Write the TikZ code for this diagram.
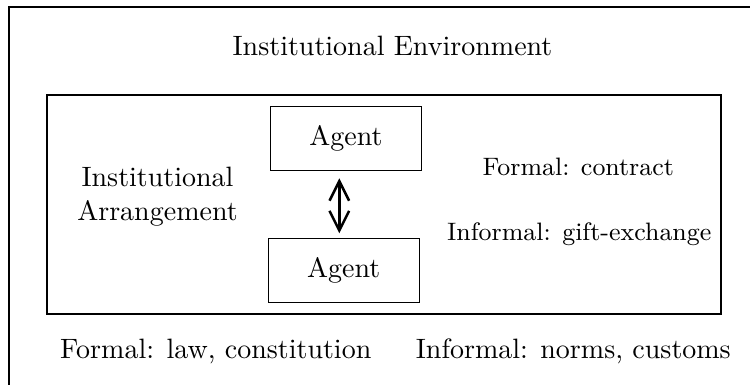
\documentclass[tikz,border=0pt]{standalone}
\usepackage{tikz}
\usetikzlibrary{arrows.meta}

\begin{document}
\begin{tikzpicture}[x=0.357pt, y=-0.357pt, agent/.style={draw, rectangle, minimum width=54pt, minimum height=23pt}, info/.style={anchor=base}, frame/.style={draw, line width=0.4pt}, arr/.style={{Straight Barb[length=7pt,width=7pt]}-{Straight Barb[length=7pt,width=7pt]}, line width=0.9pt}]
                \useasboundingbox (0,0) rectangle (750,385);
                \clip (0,0) rectangle (750,385);
                % frames
                \draw[frame] (9,7) rectangle (800,440);
                \draw[frame] (47,95) rectangle (721,314);
                % nodes
                \node[info]          (env) at (392.5,55.7) {Institutional Environment};
                \node[align=center]  (arrange) at (157.5,196.7) {Institutional\\Arrangement};
                \node[agent]         (a1) at (346,138.4) {Agent};
                \node[agent]         (a2) at (343.8,270.5) {Agent};
                \node[info, font=\small] (fc) at (578.3,175.7) {Formal: contract};
                \node[info, font=\small] (ic) at (579.2,240) {Informal: gift-exchange};
                \node[info]          (fl) at (215.8,358.3) {Formal: law, constitution};
                \node[info]          (il) at (573.3,358.3) {Informal: norms, customs};
                % edges
                \coordinate (up) at (339.3,178.3);
                \coordinate (down) at (339.3,233.3);
                \draw [arr] (up) -- (down);
            \end{tikzpicture}
\end{document}
